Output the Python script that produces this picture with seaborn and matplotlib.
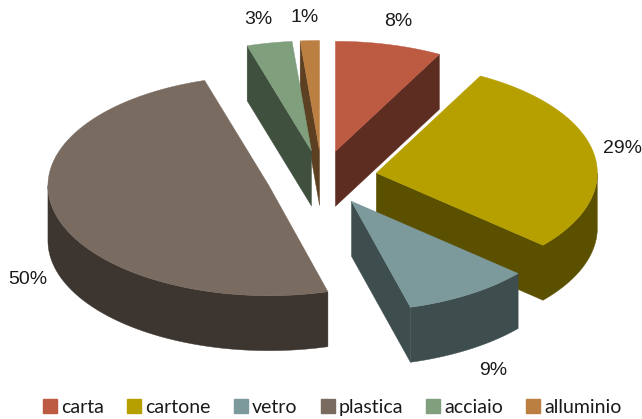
import numpy as np
import matplotlib
matplotlib.use("Agg")
import matplotlib.pyplot as plt
from matplotlib.patches import Patch, Polygon
import seaborn as sns

# ==========================
# Data
# ==========================

categories = ["carta", "cartone", "vetro", "plastica", "acciaio", "alluminio"]
shares = [7.8, 28.6, 9.3, 49.6, 3.3, 1.4]
colors = ["#BC5A42", "#B5A000", "#7C9A9B", "#7A6B60", "#7F9F7D", "#BA7F41"]

# ==========================
# Pie geometry (pixels)
# ==========================

cx, cy = 322, 178
rx, ry = 221, 110
depth = 55
explode = 0.25

label_pos = [(398, 21), (623, 148), (493, 370), (28, 279), (258, 20), (305, 17)]
draw_order = [0, 5, 4, 1, 3, 2]

sns.set_theme(style="white")
palette = sns.color_palette(colors)

fig = plt.figure(figsize=(6.42, 4.19), dpi=100)
ax = fig.add_axes([0, 0, 1, 1])
ax.set_xlim(0, 642)
ax.set_ylim(419, 0)
ax.axis("off")

edges = np.concatenate([[0], np.cumsum(shares)]) / np.sum(shares) * 360


def rim(t, x0, y0):
    # t in degrees, clockwise from the top
    r = np.radians(t)
    return np.column_stack([x0 + rx * np.sin(r), y0 - ry * np.cos(r)])


def wall(points, color):
    lowered = points[::-1] + [0, depth]
    ax.add_patch(Polygon(np.vstack([points, lowered]), fc=color, ec=color, lw=0.3))


for i in draw_order:
    start, end = edges[i], edges[i + 1]
    mid = np.radians((start + end) / 2)
    x0 = cx + explode * rx * np.sin(mid)
    y0 = cy - explode * ry * np.cos(mid)
    apex = np.array([[x0, y0]])
    dark = tuple(c * 0.5 for c in palette[i])

    # cut faces turned towards the viewer
    if np.cos(np.radians(start - 90)) < 0:
        wall(np.vstack([apex, rim(start, x0, y0)]), dark)
    if np.cos(np.radians(end + 90)) < 0:
        wall(np.vstack([apex, rim(end, x0, y0)]), dark)

    # outer wall, front half only
    a, b = max(start, 90), min(end, 270)
    if a < b:
        wall(rim(np.linspace(a, b, 80), x0, y0), dark)

    arc = rim(np.linspace(start, end, 160), x0, y0)
    ax.add_patch(Polygon(np.vstack([apex, arc]), fc=palette[i], ec=palette[i], lw=0.3))

for value, (x, y) in zip(shares, label_pos):
    ax.text(x, y, f"{round(value)}%", ha="center", va="center",
            family="Liberation Sans", fontsize=14, color="#1a1a1a")

handles = [Patch(fc=c, ec=c, label=n) for c, n in zip(palette, categories)]
ax.legend(
    handles=handles,
    loc="center",
    bbox_to_anchor=(332.5 / 642, 1 - 407 / 419),
    ncol=6,
    frameon=False,
    handlelength=0.72,
    handleheight=0.72,
    handletextpad=0.2,
    columnspacing=1.2,
    prop={"family": "Lato", "size": 14},
    labelcolor="#1a1a1a",
)

plt.savefig("out.png", dpi=100)
